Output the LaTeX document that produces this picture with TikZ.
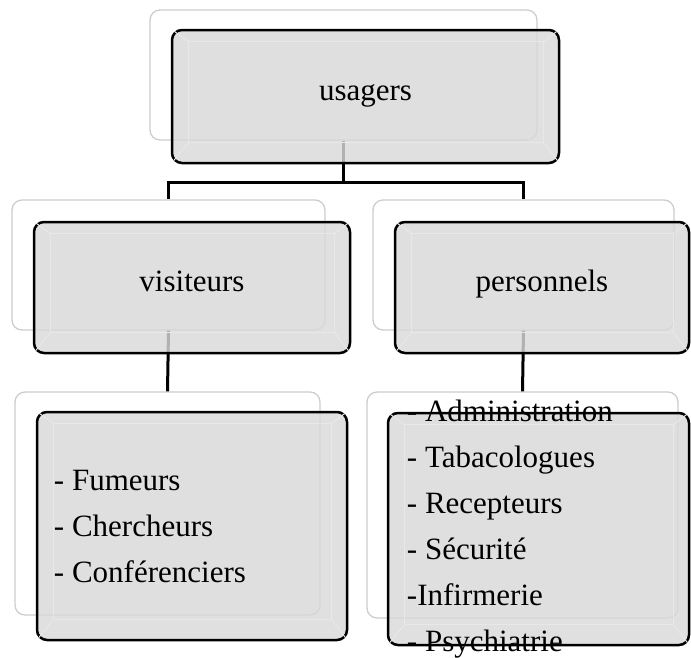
\documentclass[tikz,border=0pt]{standalone}
\usepackage{fontspec}
\setmainfont{Liberation Serif}
\usepackage{tikz}
\usetikzlibrary{positioning, calc}
\definecolor{boxgray}{RGB}{217,217,217}
\definecolor{bevelgray}{RGB}{232,232,232}
\definecolor{backedge}{RGB}{205,205,205}
\tikzset{
  %% ---- boxes ----
  backbox/.style   = {rectangle, rounded corners=10pt,
                      draw=backedge, line width=1.3pt,
                      fill=white, minimum width=#1,
                      minimum height=130pt, inner sep=0pt},
  backbox/.default = 310pt,
  frontbox/.style  = {rectangle, rounded corners=10pt,
                      draw=black, line width=2.5pt,
                      fill=boxgray, fill opacity=0.82, text opacity=1,
                      minimum width=#1, minimum height=131pt, inner sep=0pt,
                      text height=0.7em, text depth=0pt,
                      font=\fontsize{31}{46}\selectfont},
  frontbox/.default = 310pt,
  listtext/.style  = {align=left, inner sep=0pt,
                      font=\fontsize{31}{46}\selectfont},
  %% ---- connectors ----
  conn/.style      = {line width=3pt, color=black},
}
\newcommand{\bevel}[1]{%
  \draw[bevelgray, line width=1pt]
    ($(#1.north west)+(18,13)$) rectangle ($(#1.south east)+(-17,-22)$);
  \foreach \a/\dx/\dy in {north west/18/13, north east/-17/13,
                          south west/18/-22, south east/-17/-22}
    \draw[bevelgray, line width=1pt] ($(#1.\a)+(\dx/6,\dy/6)$) -- ++(5*\dx/6,5*\dy/6);
}

\begin{document}
\begin{tikzpicture}[x=1pt, y=-1pt]

  \useasboundingbox (0,0) rectangle (691,657);

  %% back boxes
  \node[backbox=387pt] (usagersbg) at (343.5,75) {};
  \node[backbox=313pt] (visiteursbg) at (168.5,265) {};
  \node[backbox=301pt] (personnelsbg) at (523.5,265) {};
  \node[backbox=305pt, minimum height=223pt] (listvisbg) at (167.5,503.5) {};
  \node[backbox=311pt, minimum height=226pt] (listpersbg) at (522.5,505) {};

  %% connectors
  \draw[conn] (usagersbg.south) -- ++(0,42) -| (visiteursbg.north);
  \draw[conn] (usagersbg.south) -- ++(0,42) -| (personnelsbg.north);
  \draw[conn] (visiteursbg.south) -- (listvisbg.north);
  \draw[conn] (personnelsbg.south) -- (listpersbg.north);

  %% front boxes
  \node[frontbox=387pt, minimum height=133pt] (usagers) at (365.5,96.5) {usagers};
  \bevel{usagers}
  \node[frontbox=316pt] (visiteurs) at (192,287.5) {visiteurs};
  \bevel{visiteurs}
  \node[frontbox=294pt] (personnels) at (542,287.5) {personnels};
  \bevel{personnels}
  \node[frontbox=310pt, minimum height=228pt] (listvis) at (192,526) {};
  \bevel{listvis}
  \node[frontbox=301pt, minimum height=232pt] (listpers) at (538.5,529) {};
  \bevel{listpers}

  \node[listtext, anchor=west] (listvistext) at ($(listvis.west)+(18,0)$)
    {- Fumeurs\\- Chercheurs\\- Conférenciers};
  \node[listtext, anchor=west] (listperstext) at ($(listpers.west)+(20,0)$)
    {- Administration\\- Tabacologues\\- Recepteurs\\- Sécurité\\-Infirmerie\\- Psychiatrie};

\end{tikzpicture}
\end{document}
